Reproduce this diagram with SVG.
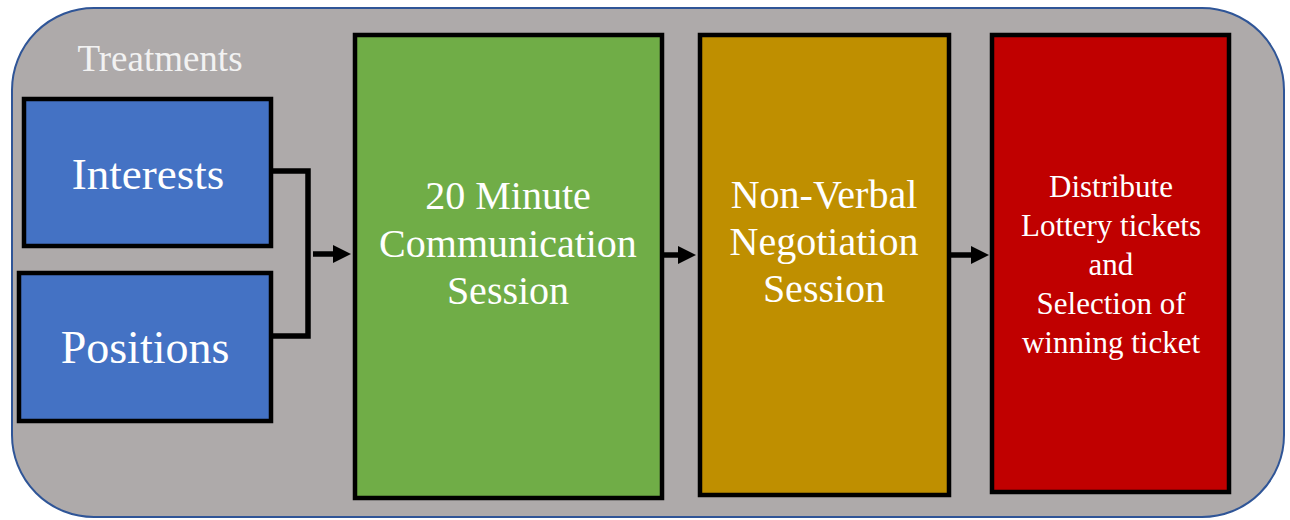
<svg xmlns="http://www.w3.org/2000/svg" width="1290" height="520" viewBox="0 0 1290 520">
<defs>
<style>
.box{stroke:#000;stroke-width:4.5}
.t{font-family:"Liberation Serif","Times New Roman",serif;fill:#fff;text-anchor:middle}
.conn{fill:none;stroke:#000;stroke-width:5.5}
</style>
<marker id="ah" markerWidth="18" markerHeight="18" refX="10" refY="9" orient="auto" markerUnits="userSpaceOnUse">
<path d="M0,0 L18,9 L0,18 z" fill="#000"/>
</marker>
</defs>
<rect width="1290" height="520" fill="#fff"/>
<g id="container">
<rect x="12" y="8" width="1272" height="509" rx="82" ry="82" fill="#AEAAAA" stroke="#2F5597" stroke-width="2"/>
<text class="t" x="160" y="71" font-size="37" style="fill:#F2F2F2">Treatments</text>
</g>
<g id="connectors">
<path class="conn" d="M273,171 H308 V336 H273"/>
<line class="conn" x1="313" y1="254" x2="343" y2="254" marker-end="url(#ah)"/>
<line class="conn" x1="658" y1="255" x2="688" y2="255" marker-end="url(#ah)"/>
<line class="conn" x1="951" y1="255" x2="981" y2="255" marker-end="url(#ah)"/>
</g>
<g id="interests">
<rect class="box" x="24" y="99" width="247" height="147" fill="#4472C4"/>
<text class="t" x="148" y="189" font-size="45">Interests</text>
</g>
<g id="positions">
<rect class="box" x="19" y="273" width="252" height="148" fill="#4472C4"/>
<text class="t" x="145" y="363" font-size="46">Positions</text>
</g>
<g id="communication">
<rect class="box" x="355" y="35" width="307" height="463" fill="#70AD47"/>
<text class="t" font-size="40"><tspan x="508" y="209">20 Minute</tspan><tspan x="508" y="257">Communication</tspan><tspan x="508" y="304">Session</tspan></text>
</g>
<g id="negotiation">
<rect class="box" x="700" y="35" width="249" height="460" fill="#BF8F00"/>
<text class="t" font-size="40"><tspan x="824" y="208">Non-Verbal</tspan><tspan x="824" y="255">Negotiation</tspan><tspan x="824" y="302">Session</tspan></text>
</g>
<g id="lottery">
<rect class="box" x="992" y="35" width="237" height="457" fill="#C00000"/>
<text class="t" font-size="31"><tspan x="1111" y="197">Distribute</tspan><tspan x="1111" y="236">Lottery tickets</tspan><tspan x="1111" y="275">and</tspan><tspan x="1111" y="314">Selection of</tspan><tspan x="1111" y="353">winning ticket</tspan></text>
</g>
</svg>
